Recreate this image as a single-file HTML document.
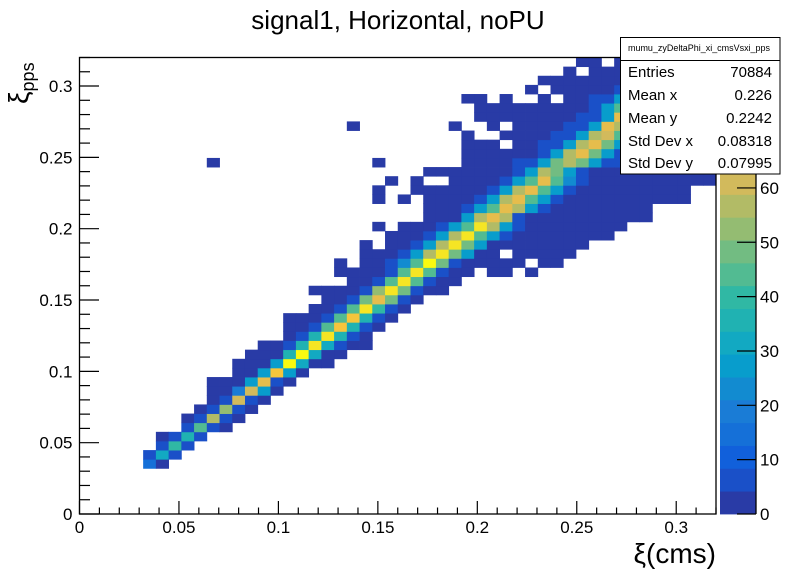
<!DOCTYPE html>
<html><head><meta charset="utf-8"><style>
html,body{margin:0;padding:0;background:#fff;}
svg{display:block;font-family:"Liberation Sans",sans-serif;}
</style></head><body>
<svg id="chart" width="796" height="572" viewBox="0 0 796 572" xmlns="http://www.w3.org/2000/svg">
<rect x="0" y="0" width="796" height="572" fill="#fff"/>
<text x="398" y="29" font-size="26" text-anchor="middle" fill="#000">signal1, Horizontal, noPU</text>
<g id="cells"></g>
<g id="axes"></g>
<g id="palette"></g>
<text x="716" y="563" font-size="28" text-anchor="end" fill="#000">ξ(cms)</text>
<text transform="translate(28,104) rotate(-90)" font-size="28" fill="#000">ξ<tspan font-size="18" dy="6">pps</tspan></text>
<g>
<rect x="620.5" y="37.5" width="159.5" height="136.5" fill="#fff" stroke="#000" stroke-width="1"/>
<line x1="620.5" y1="60.5" x2="780" y2="60.5" stroke="#000" stroke-width="1"/>
<text x="628" y="51" font-size="9" textLength="142" lengthAdjust="spacingAndGlyphs" fill="#000">mumu_zyDeltaPhi_xi_cmsVsxi_pps</text>
<g font-size="15" fill="#000">
<text x="628" y="77">Entries</text>
<text x="772" y="77" text-anchor="end">70884</text>
<text x="628" y="100">Mean x</text>
<text x="772" y="100" text-anchor="end">0.226</text>
<text x="628" y="123">Mean y</text>
<text x="772" y="123" text-anchor="end">0.2242</text>
<text x="628" y="146">Std Dev x</text>
<text x="772" y="146" text-anchor="end">0.08318</text>
<text x="628" y="168">Std Dev y</text>
<text x="772" y="168" text-anchor="end">0.07995</text>
</g>
</g>
</svg>
<script>
// ---- data ----
const binWidth = 0.0064;
const xTicks = [0, 0.05, 0.1, 0.15, 0.2, 0.25, 0.3];
const xTickLabels = ["0", "0.05", "0.1", "0.15", "0.2", "0.25", "0.3"];
const yTicks = [0, 0.05, 0.1, 0.15, 0.2, 0.25, 0.3];
const yTickLabels = ["0", "0.05", "0.1", "0.15", "0.2", "0.25", "0.3"];
const zTicks = [0, 10, 20, 30, 40, 50, 60];
const zMax = 84;
// each entry: [x bin index, first y bin index, counts going up]
const columns = [
[5,5,[15,7]],
[6,5,[2,33,7,2]],
[7,6,[7,38,7]],
[8,7,[7,36,7,2]],
[9,8,[7,46,7,2]],
[10,9,[7,55,7,2,2,2]],
[10,38,[2]],
[11,9,[2,7,52,7,2,2]],
[12,10,[2,7,62,20,2,2,2]],
[13,11,[2,7,60,26,2,2,2]],
[14,12,[2,26,66,26,2,2,2]],
[15,13,[2,7,70,28,2,2]],
[16,14,[2,28,80,34,7,2,2,2]],
[17,15,[2,30,82,34,7,2,2]],
[18,16,[2,32,76,36,7,2,2,0,2]],
[19,16,[2,2,32,76,44,7,2,2,2]],
[20,17,[2,7,36,68,46,7,2,2,0,2,2]],
[21,18,[2,7,36,70,46,7,2,2,2]],
[21,42,[2]],
[22,18,[2,2,7,36,78,48,7,2,2,2,2,2]],
[23,20,[2,7,40,66,54,7,2,2,2,0,0,2,0,0,2,2,0,0,2]],
[24,21,[2,7,48,78,46,7,7,2,2,2,0,0,0,0,0,2]],
[25,22,[2,7,48,76,46,24,7,2,2,2,0,0,2]],
[26,23,[2,7,46,76,46,28,7,2,2,0,0,0,2,2]],
[27,24,[2,7,46,80,56,28,7,2,2,2,2,2,0,2]],
[28,24,[2,2,7,48,76,56,28,7,2,2,2,2,0,2]],
[29,25,[2,2,7,48,76,56,28,2,2,2,2,2,2,0,0,0,0,2]],
[30,26,[2,2,28,48,76,46,28,7,2,2,2,2,2,2,2,2,0,0,0,2]],
[31,27,[2,2,28,46,76,56,28,7,2,2,2,2,2,2,0,0,2,2,2]],
[32,26,[2,2,2,2,28,56,64,46,28,7,2,2,2,2,2,0,2,2,2]],
[33,26,[2,2,0,2,7,28,56,64,56,28,7,2,2,2,0,2,0,2,2,2]],
[34,27,[2,2,2,2,7,7,56,64,56,28,7,7,2,2,2,2,2,2]],
[35,26,[2,0,2,2,2,2,2,28,46,64,46,28,7,2,2,2,2,2,2,0,2]],
[36,27,[2,2,2,2,2,2,7,28,46,64,56,28,7,7,2,2,2,2,2,0,2]],
[37,27,[2,2,2,2,2,2,2,7,28,46,48,48,28,7,7,2,2,2,0,2,2]],
[38,28,[2,2,2,2,2,2,2,7,24,28,56,56,28,7,7,2,2,2,2,2,2]],
[39,29,[2,2,2,2,2,2,2,7,7,48,64,56,28,7,7,2,2,2,2,0,2]],
[40,30,[2,2,2,2,2,2,2,2,28,48,66,56,28,7,7,7,2,2,2,2]],
[41,30,[2,2,2,2,2,2,2,2,7,28,48,62,66,28,26,7,2,2,2]],
[42,31,[2,2,2,2,2,2,2,7,7,28,46,56,64,46,28,7,2,2,2]],
[43,32,[2,2,2,2,2,2,2,7,7,28,46,56,64,46,28,7,2]],
[44,32,[2,2,2,2,2,2,2,2,7,7,28,46,56,60,46,28,7]],
[45,34,[2,2,2,2,2,2,2,7,7,28,46,56,46,28,7]],
[46,34,[2,2,2,2,2,2,2,2,7,28,46,46,28,7]],
[47,34,[2,2,2,2,2,2,2,2,2,7,28,28,7]],
[48,36,[2,2,2,2,2,2,7,7,2]],
[49,36,[2,2,2,2,2,2,2]]
];
const paletteColors = ["#293ba6","#1a50c8","#1160db","#1570d8","#1a7cd6","#128bd0","#089dcc","#12a9c2","#20b2b2","#30b8a4","#52bb92","#72bc82","#94bc72","#b2bb66","#d2ba5c","#e6bd4c","#f5c53c","#fdd22c","#f5e524","#f9fa10"];

// ---- axes ----
const X0 = 79.5, X1 = 716, Y0 = 514, Y1 = 57.5;
const XMIN = 0, XMAX = 0.32, YMIN = 0, YMAX = 0.32;
function xs(v){ return X0 + (v - XMIN) / (XMAX - XMIN) * (X1 - X0); }
function ys(v){ return Y0 - (v - YMIN) / (YMAX - YMIN) * (Y0 - Y1); }
const ZY0 = 514, ZY1 = 57.5, ZX0 = 720, ZX1 = 756;
function zs(v){ return ZY0 - v / zMax * (ZY0 - ZY1); }
function colorFor(v){
  let k = Math.floor(v / zMax * paletteColors.length);
  if (k >= paletteColors.length) k = paletteColors.length - 1;
  if (k < 0) k = 0;
  return paletteColors[k];
}
const NS = "http://www.w3.org/2000/svg";
function mk(tag, attrs, parent){
  const e = document.createElementNS(NS, tag);
  for (const k in attrs) e.setAttribute(k, attrs[k]);
  parent.appendChild(e);
  return e;
}

// cells
const gCells = document.getElementById("cells");
columns.forEach(function(col){
  const ix = col[0], iy0 = col[1], vals = col[2];
  vals.forEach(function(v, j){
    if (v <= 0) return;
    const iy = iy0 + j;
    const xa = xs(ix * binWidth), xb = xs((ix + 1) * binWidth);
    const ya = ys((iy + 1) * binWidth), yb = ys(iy * binWidth);
    const r = mk("rect", {x: xa.toFixed(2), y: ya.toFixed(2), width: (xb - xa + 0.4).toFixed(2), height: (yb - ya + 0.4).toFixed(2), fill: colorFor(v)}, gCells);
    
    
  });
});

// frame & ticks
const gAx = document.getElementById("axes");
const frame = mk("rect", {x: X0, y: Y1, width: X1 - X0, height: Y0 - Y1, fill: "none", stroke: "#000", "stroke-width": 1.3}, gAx);


for (let i = 0; i <= 32; i++){
  const v = i * 0.01;
  const major = (i % 5 === 0);
  const x = xs(v);
  const t = mk("line", {x1: x, y1: Y0, x2: x, y2: Y0 - (major ? 13 : 6.5), stroke: "#000", "stroke-width": 1.2}, gAx);
  
  
  const y = ys(v);
  const ty = mk("line", {x1: X0, y1: y, x2: X0 + (major ? 19.5 : 10.5), y2: y, stroke: "#000", "stroke-width": 1.2}, gAx);
  
  
}
xTicks.forEach(function(v, i){
  const t = mk("text", {x: xs(v), y: 533, "font-size": 17, "text-anchor": "middle", fill: "#000"}, gAx);
  t.textContent = xTickLabels[i];
  
  
});
yTicks.forEach(function(v, i){
  const t = mk("text", {x: 72.5, y: ys(v) + 6, "font-size": 17, "text-anchor": "end", fill: "#000"}, gAx);
  t.textContent = yTickLabels[i];
  
  
});

// palette
const gP = document.getElementById("palette");
const bandH = zMax / paletteColors.length;
paletteColors.forEach(function(c, k){
  const ya = zs((k + 1) * bandH), yb = zs(k * bandH);
  const r = mk("rect", {x: ZX0, y: ya.toFixed(2), width: ZX1 - ZX0, height: (yb - ya + 0.4).toFixed(2), fill: c}, gP);
  
  
});
const pl = mk("line", {x1: ZX1, y1: ZY1, x2: ZX1, y2: ZY0, stroke: "#000", "stroke-width": 1.3}, gP);


zTicks.forEach(function(v){
  const y = zs(v);
  const t = mk("line", {x1: ZX1 - 19, y1: y, x2: ZX1, y2: y, stroke: "#000", "stroke-width": 1.2}, gP);
  
  
  const l = mk("text", {x: 760, y: y + 6, "font-size": 17, fill: "#000"}, gP);
  l.textContent = String(v);
  
  
});
</script>
</body></html>
